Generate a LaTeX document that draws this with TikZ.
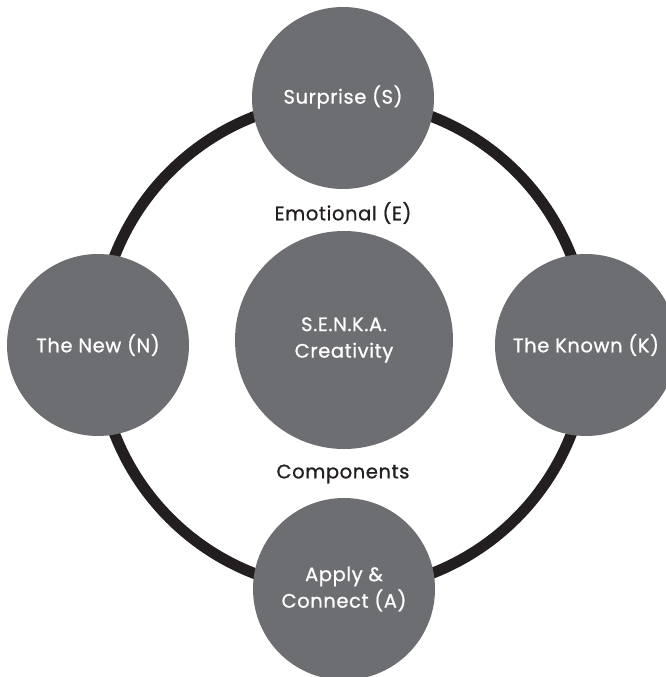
\documentclass[tikz,border=0pt]{standalone}
\usepackage{fontspec}
\setmainfont{Poppins}[FakeBold=0.9,LetterSpace=3]
\definecolor{discgray}{HTML}{6D6E71}
\definecolor{inkdark}{HTML}{231F20}
\tikzset{
  part/.style={circle,fill=discgray,text=white,minimum size=182pt,inner sep=0pt,
    align=center,font=\fontsize{19.5}{26.5}\selectfont},
  hub/.style={part,minimum size=218pt},
  caption/.style={text=inkdark,font=\fontsize{19.5}{26.5}\selectfont}
}
\begin{document}
\begin{tikzpicture}[x=1pt,y=-1pt]
  \useasboundingbox (0,0) rectangle (666,677);
  % ring behind the four components
  \coordinate (mid) at (343,345);
  \draw[inkdark,line width=11pt] (mid) circle (245pt);
  \node[part] (S) at (343,98) {\raisebox{7pt}{Surprise (S)}};
  \node[part] (N) at (98,345) {The New (N)};
  \node[part] (K) at (586,345) {The Known (K)};
  \node[part] (A) at (344,589) {Apply \&\\Connect (A)};
  \node[hub] (C) at (344,340) {S.E.N.K.A.\\Creativity};
  \node[caption] (E) at (343,213) {Emotional (E)};
  \node[caption] (P) at (343,474) {Components};
\end{tikzpicture}
\end{document}
